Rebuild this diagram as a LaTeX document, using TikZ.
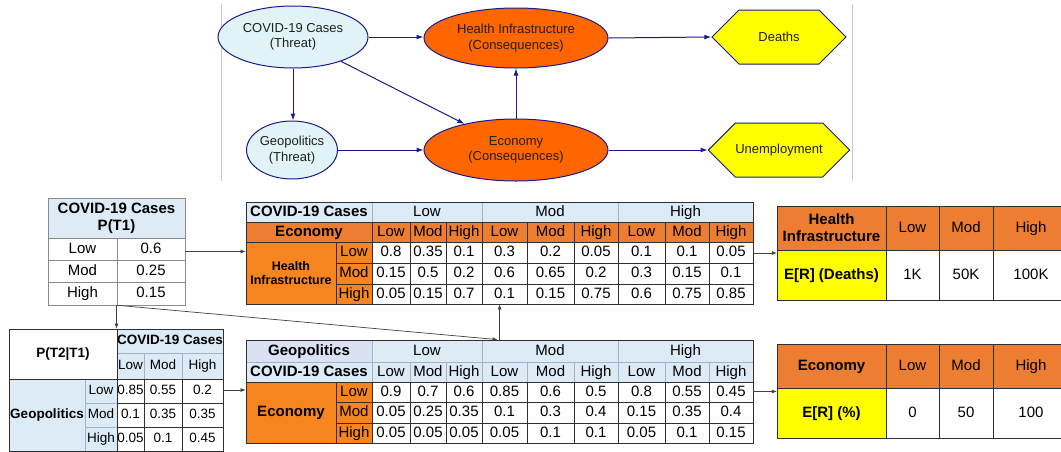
\documentclass[tikz,border=0pt]{standalone}
\usepackage{fontspec}
\setmainfont{Liberation Sans}
\usetikzlibrary{shapes.geometric,shapes.symbols,fit,arrows.meta}

\definecolor{navy}{HTML}{1A1A8C}
\definecolor{threatfill}{HTML}{E2F3F7}
\definecolor{conseq}{HTML}{FF6600}
\definecolor{utilfill}{HTML}{FFFF00}
\definecolor{hdrblue}{HTML}{DDEBF7}
\definecolor{hdrlav}{HTML}{D9E1F2}
\definecolor{orhdr}{HTML}{ED7D31}
\definecolor{orlab}{HTML}{F6841F}
\definecolor{gridline}{HTML}{303030}
\definecolor{bluegrid}{HTML}{9FB4C8}
\definecolor{lightgrid}{HTML}{8A8A8A}
\definecolor{framegray}{HTML}{C8C8C8}
\definecolor{linkgray}{HTML}{404040}

% one table cell: [node options]{x1}{y1}{x2}{y2}{fill}{text}
\newcounter{cellno}
\newcommand\tcell[7][]{%
  \stepcounter{cellno}%
  \filldraw[fill=#6,draw=\cellline,line width=0.8pt] (#2,#3) rectangle (#4,#5);
  \node[celltext,#1] (cell\arabic{cellno}) at ({(#2+#4)/2},{(#3+#5)/2}) {#7};}
\def\cellline{gridline}

% nine cells under the three state groups of the large tables
\newcommand\ninerow[4]{%
  \foreach \v [count=\i from 0] in {#4}{%
    \pgfmathtruncatemacro\xa{{372,410,446,482,527,574,618,665,709}[\i]}%
    \pgfmathtruncatemacro\xb{{410,446,482,527,574,618,665,709,753}[\i]}%
    \tcell{\xa}{#1}{\xb}{#2}{#3}{\v}}}

\tikzset{
  celltext/.style={font=\fontsize{15}{17}\selectfont, text height=11pt, text depth=3pt, inner sep=0pt},
  multi/.style={align=center, text height={}, text depth={}},
  bnnode/.style={draw=navy, line width=1pt, align=center, inner sep=0pt,
                 font=\fontsize{13}{15.5}\selectfont, text=black!88},
  threat/.style={bnnode, ellipse, fill=threatfill},
  conseqnode/.style={bnnode, ellipse, fill=conseq},
  utility/.style={bnnode, signal, signal to=east and west, signal pointer angle=90,
                  fill=utilfill, minimum width=134pt, minimum height=54pt},
  bnlink/.style={draw=navy, line width=1pt, -{Latex[length=7pt,width=5pt]}},
  tablelink/.style={draw=linkgray, line width=0.7pt, -{Latex[length=5pt,width=4pt]}},
  frame/.style={inner sep=0pt, draw=none},
  darkframe/.style={inner sep=0pt, draw=gridline, line width=0.8pt}
}

\begin{document}
\begin{tikzpicture}[x=1pt, y=-1pt]
\useasboundingbox (0,0) rectangle (1061,451);

% ---------------- influence diagram ----------------
\draw[framegray, line width=0.8pt] (221,4) -- (221,181);
\draw[framegray, line width=0.8pt] (852,4) -- (852,181);

\node[threat, minimum width=150pt, minimum height=62pt] (covid) at (293,37) {COVID-19 Cases\\(Threat)};
\node[threat, minimum width=90pt, minimum height=58pt] (geo) at (292,150) {Geopolitics\\(Threat)};
\node[conseqnode, minimum width=184pt, minimum height=60pt] (hi) at (516,38) {Health Infrastructure\\(Consequences)};
\node[conseqnode, minimum width=184pt, minimum height=62pt] (econ) at (516,150) {Economy\\(Consequences)};
\node[utility] (deaths) at (779,37) {Deaths};
\node[utility] (unemp) at (779,150) {Unemployment};

\draw[bnlink] (covid.east) -- (hi.west |- covid.east);
\draw[bnlink] (hi.east) -- (deaths.west);
\draw[bnlink] (covid.south) -- (covid.south |- geo.north);
\draw[bnlink] (covid) -- (econ);
\draw[bnlink] (geo.east) -- (econ.west |- geo.east);
\draw[bnlink] (econ.north) -- (hi.south);
\draw[bnlink] (econ.east) -- (unemp.west);

% ---------------- P(T1) ----------------
\def\cellline{lightgrid}
\tcell[multi, font=\fontsize{15}{17}\selectfont\bfseries]{48}{198}{185}{238}{hdrblue}{COVID-19 Cases\\P(T1)}
\tcell{48}{238}{117}{260}{white}{Low}
\tcell{117}{238}{185}{260}{white}{0.6}
\tcell{48}{260}{117}{282}{white}{Mod}
\tcell{117}{260}{185}{282}{white}{0.25}
\tcell{48}{282}{117}{305}{white}{High}
\tcell{117}{282}{185}{305}{white}{0.15}
\node[frame, fit={(48,198)(185,305)}] (tP1) {};

% ---------------- P(T2|T1) ----------------
\begin{scope}[celltext/.append style={font=\fontsize{13.5}{15}\selectfont, text height=10pt, text depth=3pt}]
\def\cellline{bluegrid}
\tcell{117}{329}{223}{353}{hdrblue}{\bfseries COVID-19 Cases}
\tcell{117}{353}{144}{379}{hdrblue}{Low}
\tcell{144}{353}{182}{379}{hdrblue}{Mod}
\tcell{182}{353}{223}{379}{hdrblue}{High}
\tcell{9}{379}{85}{451}{hdrblue}{\bfseries Geopolitics}
\tcell{85}{379}{117}{403}{hdrblue}{Low}
\tcell{85}{403}{117}{427}{hdrblue}{Mod}
\tcell{85}{427}{117}{451}{hdrblue}{High}
\def\cellline{gridline}
\tcell{9}{329}{117}{379}{white}{\bfseries P(T2|T1)}
\foreach \ya/\yb/\va/\vb/\vc in {379/403/0.85/0.55/0.2, 403/427/0.1/0.35/0.35, 427/451/0.05/0.1/0.45}{
  \tcell{117}{\ya}{144}{\yb}{white}{\va}
  \tcell{144}{\ya}{182}{\yb}{white}{\vb}
  \tcell{182}{\ya}{223}{\yb}{white}{\vc}}
\end{scope}
\node[darkframe, fit={(9,329)(223,451)}] (tG) {};

% ---------------- P(Health Infrastructure | ...) ----------------
\def\cellline{bluegrid}
\tcell{246}{202}{372}{222}{hdrblue}{\bfseries COVID-19 Cases}
\tcell{372}{202}{482}{222}{hdrblue}{Low}
\tcell{482}{202}{618}{222}{hdrblue}{Mod}
\tcell{618}{202}{753}{222}{hdrblue}{High}
\def\cellline{gridline}
\tcell{246}{222}{372}{242}{orhdr}{\bfseries Economy}
\ninerow{222}{242}{orhdr}{Low,Mod,High,Low,Mod,High,Low,Mod,High}
\tcell[multi, font=\fontsize{12.5}{14}\selectfont\bfseries]{246}{242}{336}{304}{orlab}{Health\\Infrastructure}
\tcell{336}{242}{372}{263}{orlab}{Low}
\tcell{336}{263}{372}{284}{orlab}{Mod}
\tcell{336}{284}{372}{304}{orlab}{High}
\ninerow{242}{263}{white}{0.8,0.35,0.1,0.3,0.2,0.05,0.1,0.1,0.05}
\ninerow{263}{284}{white}{0.15,0.5,0.2,0.6,0.65,0.2,0.3,0.15,0.1}
\ninerow{284}{304}{white}{0.05,0.15,0.7,0.1,0.15,0.75,0.6,0.75,0.85}
\node[darkframe, fit={(246,202)(753,304)}] (tHI) {};

% ---------------- P(Economy | ...) ----------------
\def\cellline{bluegrid}
\tcell{246}{340}{372}{362}{hdrlav}{\bfseries Geopolitics}
\tcell{372}{340}{482}{362}{hdrblue}{Low}
\tcell{482}{340}{618}{362}{hdrblue}{Mod}
\tcell{618}{340}{753}{362}{hdrblue}{High}
\tcell{246}{362}{372}{382}{hdrblue}{\bfseries COVID-19 Cases}
\ninerow{362}{382}{hdrblue}{Low,Mod,High,Low,Mod,High,Low,Mod,High}
\def\cellline{gridline}
\tcell{246}{382}{336}{443}{orlab}{\bfseries Economy}
\tcell{336}{382}{372}{402}{orlab}{Low}
\tcell{336}{402}{372}{423}{orlab}{Mod}
\tcell{336}{423}{372}{443}{orlab}{High}
\ninerow{382}{402}{white}{0.9,0.7,0.6,0.85,0.6,0.5,0.8,0.55,0.45}
\ninerow{402}{423}{white}{0.05,0.25,0.35,0.1,0.3,0.4,0.15,0.35,0.4}
\ninerow{423}{443}{white}{0.05,0.05,0.05,0.05,0.1,0.1,0.05,0.1,0.15}
\node[darkframe, fit={(246,340)(753,443)}] (tE) {};

% ---------------- expected consequences ----------------
\tcell[multi, font=\fontsize{15}{17}\selectfont\bfseries]{777}{206}{886}{250}{orhdr}{Health\\Infrastructure}
\tcell{886}{206}{939}{250}{orhdr}{Low}
\tcell{939}{206}{993}{250}{orhdr}{Mod}
\tcell{993}{206}{1069}{250}{orhdr}{High}
\tcell{777}{250}{886}{300}{utilfill}{\bfseries E[R] (Deaths)}
\tcell{886}{250}{939}{300}{white}{1K}
\tcell{939}{250}{993}{300}{white}{50K}
\tcell{993}{250}{1069}{300}{white}{100K}
\node[frame, fit={(777,206)(1069,300)}] (tD) {};

\tcell{777}{344}{886}{388}{orhdr}{\bfseries Economy}
\tcell{886}{344}{939}{388}{orhdr}{Low}
\tcell{939}{344}{993}{388}{orhdr}{Mod}
\tcell{993}{344}{1069}{388}{orhdr}{High}
\tcell{777}{388}{886}{438}{utilfill}{\bfseries E[R] (\%)}
\tcell{886}{388}{939}{438}{white}{0}
\tcell{939}{388}{993}{438}{white}{50}
\tcell{993}{388}{1069}{438}{white}{100}
\node[frame, fit={(777,344)(1069,438)}] (tU) {};

% ---------------- links between tables ----------------
\draw[tablelink] (tP1.east) -- (tHI.west |- tP1.east);
\draw[tablelink] (tP1.south) -- (tP1.south |- tG.north);
\draw[tablelink] (tP1.south) -- ([xshift=252pt]tE.north west);
\draw[tablelink] ([xshift=254pt]tE.north west) -- ([xshift=254pt]tHI.south west);
\draw[tablelink] (tG.east) -- (tE.west |- tG.east);
\draw[tablelink] (tHI.east) -- (tD.west |- tHI.east);
\draw[tablelink] (tE.east) -- (tU.west |- tE.east);
\end{tikzpicture}
\end{document}
